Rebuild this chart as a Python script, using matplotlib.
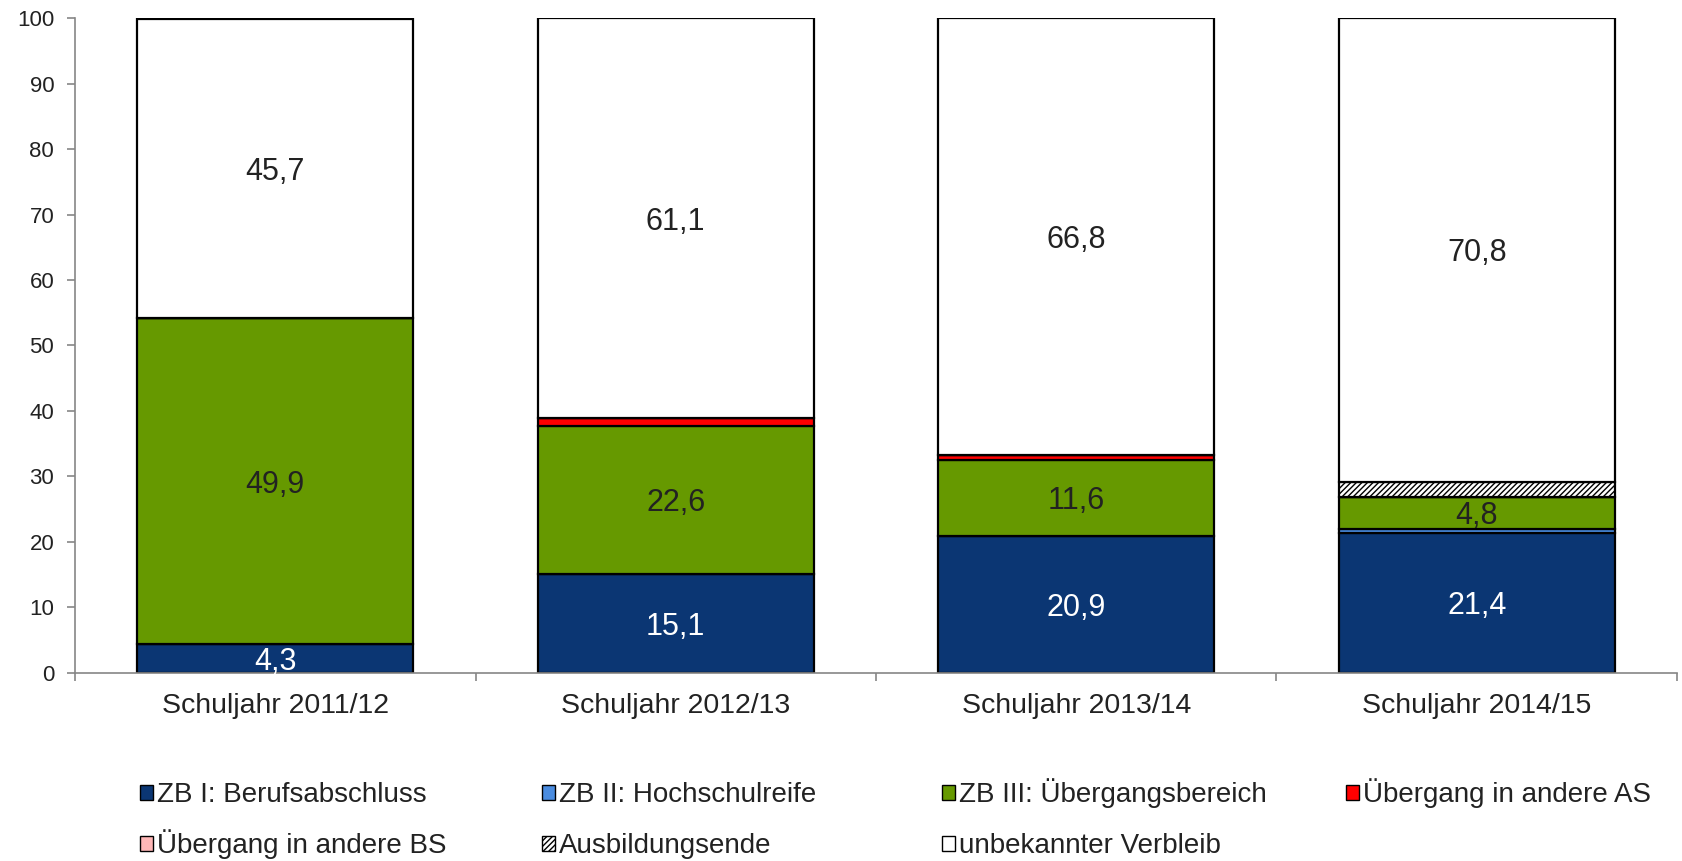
import numpy as np
import matplotlib.pyplot as plt
from matplotlib.ticker import FixedLocator

plt.rcParams['font.family'] = ['Liberation Sans', 'DejaVu Sans']
plt.rcParams['hatch.linewidth'] = 1.0

# data
jahre = ['Schuljahr 2011/12', 'Schuljahr 2012/13', 'Schuljahr 2013/14', 'Schuljahr 2014/15']
serien = ['ZB I: Berufsabschluss', 'ZB II: Hochschulreife', 'ZB III: Übergangsbereich',
          'Übergang in andere AS', 'Übergang in andere BS', 'Ausbildungsende',
          'unbekannter Verbleib']
zb1 = [4.3, 15.1, 20.9, 21.4]
zb2 = [0.0, 0.0, 0.0, 0.6]
zb3 = [49.9, 22.6, 11.6, 4.8]
ueb_as = [0.0, 1.2, 0.7, 0.0]
ueb_bs = [0.0, 0.0, 0.0, 0.0]
ausb_ende = [0.0, 0.0, 0.0, 2.4]
unbekannt = [45.7, 61.1, 66.8, 70.8]
werte = [zb1, zb2, zb3, ueb_as, ueb_bs, ausb_ende, unbekannt]
# which series get a number printed inside
beschriftet = [True, False, True, False, False, False, True]

farben = ['#0B3673', '#4A8CE0', '#669900', '#FF0000', '#FFB7B7', 'white', 'white']
muster = [None, None, None, None, None, '//////', None]
textfarben = ['white', None, '#222222', None, None, None, '#222222']

fig = plt.figure(figsize=(16.82, 8.61), dpi=100)
ax = fig.add_axes([0.0446, 0.2188, 0.9524, 0.7601])

x = np.arange(len(jahre))
unten = np.zeros(len(jahre))
handles = []
for name, w, col, hat, tc, lab in zip(serien, werte, farben, muster, textfarben, beschriftet):
    w = np.array(w)
    b = ax.bar(x, w, width=0.69, bottom=unten, color=col, edgecolor='black',
               linewidth=1.6, hatch=hat, label=name)
    handles.append(b)
    if lab:
        for xi, v, u in zip(x, w, unten):
            if v > 0:
                ax.text(xi, u + v / 2, f'{v:.1f}'.replace('.', ','), ha='center',
                        va='center_baseline', fontsize=22, color=tc)
    unten += w

ax.set_xlim(-0.5, 3.5)
ax.set_ylim(0, 100)
ax.set_yticks(np.arange(0, 101, 10))
ax.set_xticks(x)
ax.set_xticklabels(jahre)
ax.xaxis.set_minor_locator(FixedLocator(np.arange(-0.5, 3.6, 1)))
ax.tick_params(axis='x', which='major', length=0, pad=15, labelsize=20.5, labelcolor='#222222')
ax.tick_params(axis='x', which='minor', length=6, color='#868686', width=1.2)
ax.tick_params(axis='y', length=6, color='#868686', width=1.2, labelsize=16,
               labelcolor='#222222', pad=9)
for s in ['top', 'right']:
    ax.spines[s].set_visible(False)
for s in ['left', 'bottom']:
    ax.spines[s].set_color('#868686')
    ax.spines[s].set_linewidth(1.2)

# legend: one entry per legend box so the grid lines up with the bars
# (anchored at the bottom so that rows share a baseline)
leg_x = [0.083, 0.322, 0.560, 0.800, 0.083, 0.322, 0.560]
leg_y = [0.061, 0.061, 0.061, 0.061, 0.002, 0.002, 0.002]
for h, name, lx, ly in zip(handles, serien, leg_x, leg_y):
    lg = fig.legend([h], [name], loc='lower left', bbox_to_anchor=(lx, ly),
                    frameon=False, fontsize=20, handlelength=0.47, handleheight=0.47,
                    handletextpad=0.15, borderpad=0, borderaxespad=0)
    for t in lg.get_texts():
        t.set_color('#222222')
    for lh in lg.legend_handles:
        lh.set_linewidth(1.0)

fig.savefig('out.png', dpi=100)
